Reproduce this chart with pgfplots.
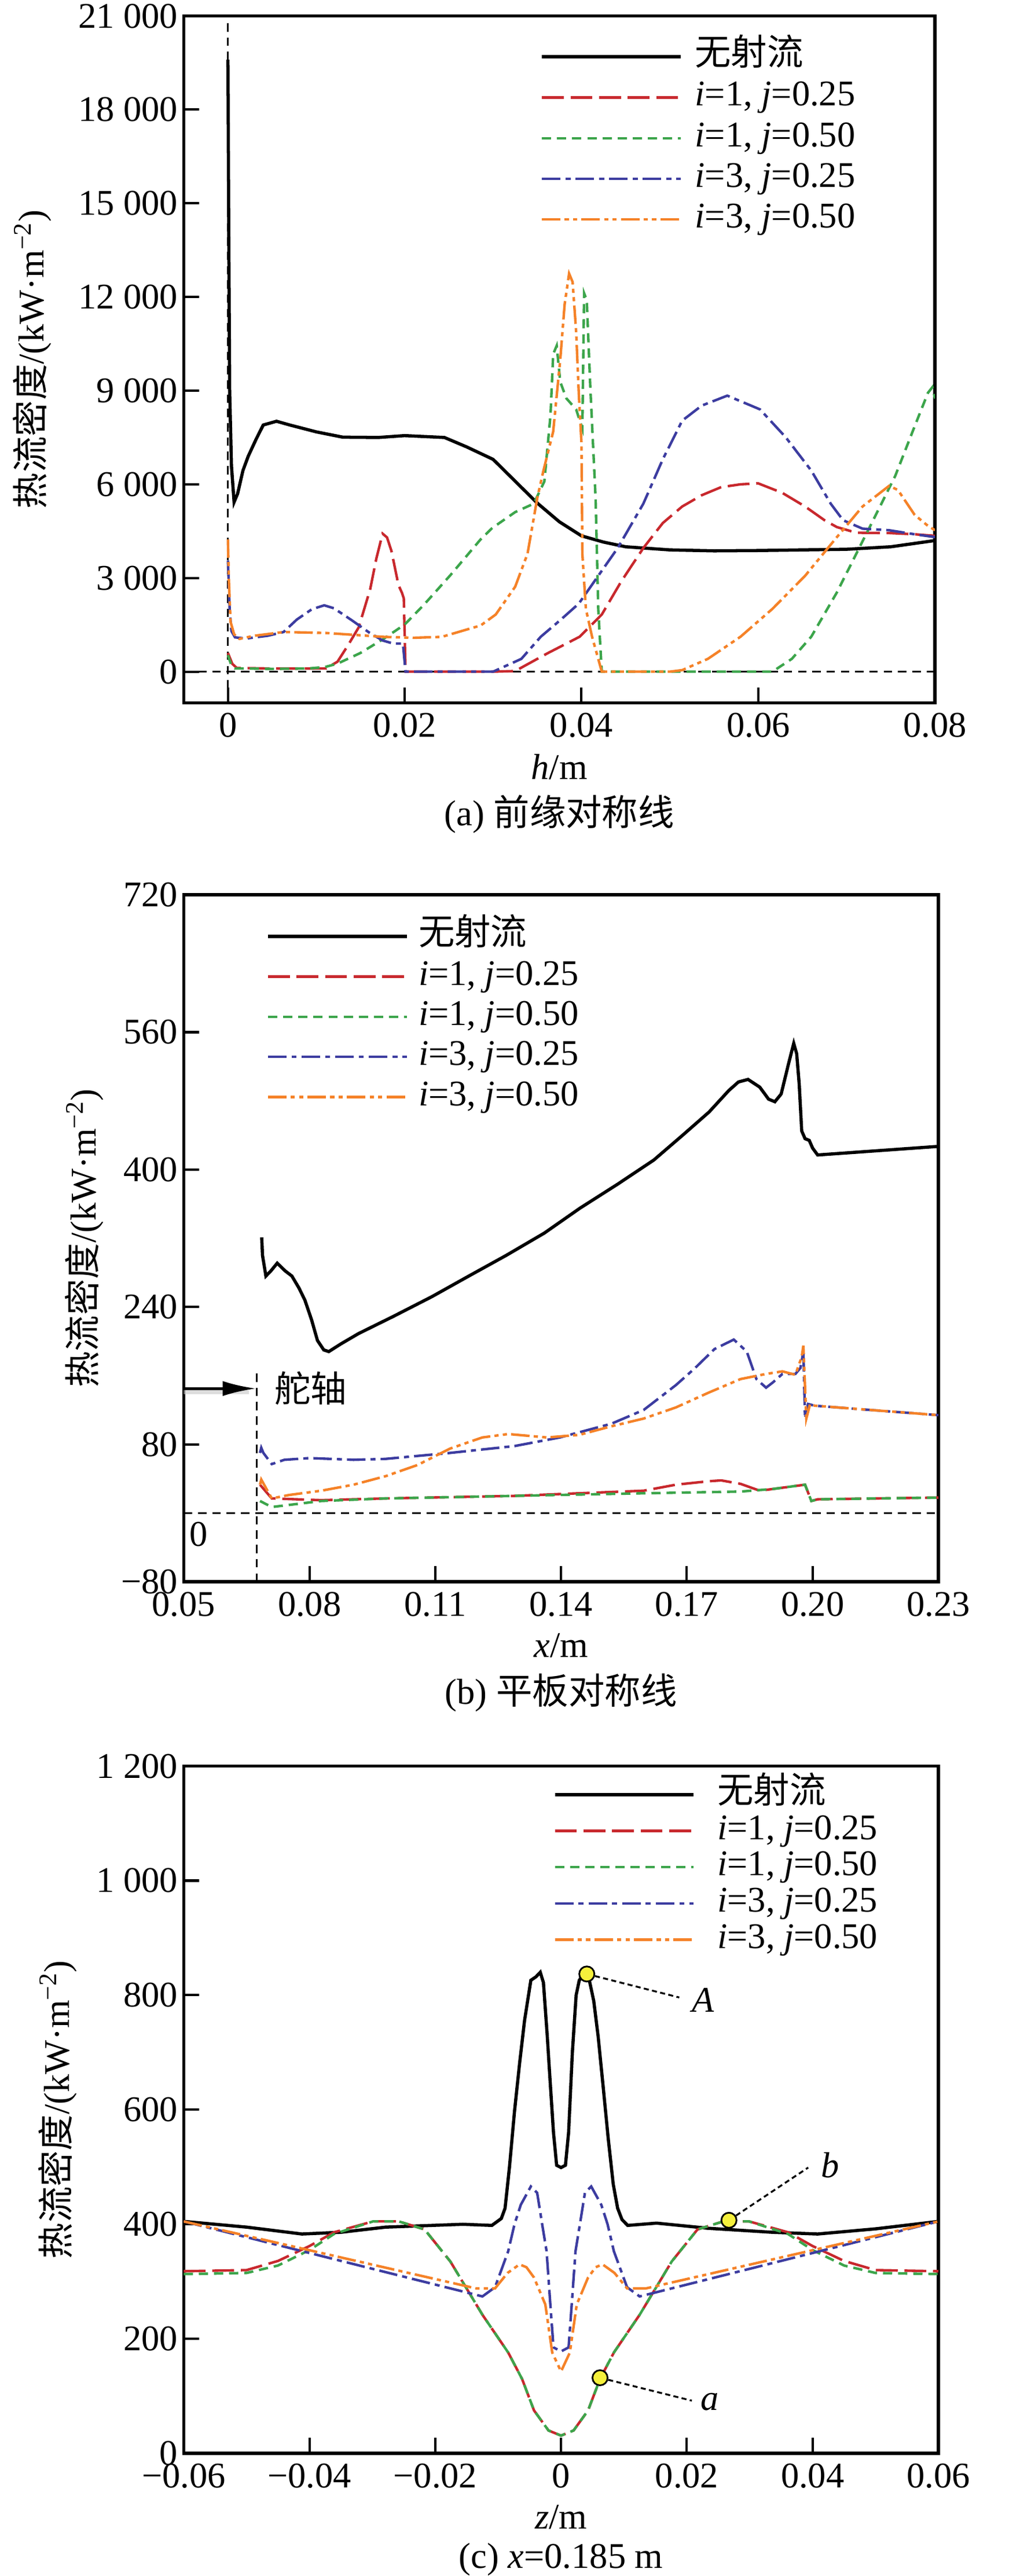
\documentclass[border=0pt]{standalone}
\usepackage{fontspec}
\setmainfont{Liberation Serif}
\newfontfamily\cjk{Noto Sans CJK SC}
\usepackage{pgfplots}
\pgfplotsset{compat=1.18}
\usetikzlibrary{arrows.meta}
\newcommand\fsz{\fontsize{21.5}{25}\selectfont}
\definecolor{cred}{RGB}{200,40,45}
\definecolor{cgreen}{RGB}{60,165,75}
\definecolor{cblue}{RGB}{60,60,160}
\definecolor{corange}{RGB}{245,130,40}
\definecolor{cyel}{RGB}{245,240,60}

\pgfplotsset{
 base/.style={scale only axis, width=447pt, height=408.8pt, clip mode=individual,
   scaled ticks=false,
   axis line style={line width=1.9pt}, tick align=inside, tick pos=left,
   major tick length=9.2pt, every tick/.style={line width=1.4pt,black},
   tick label style={font=\fsz}, xticklabel style={yshift=-2.5pt},
   label style={font=\fsz},
   xlabel style={at={(axis description cs:0.5,0)}, anchor=center, yshift=-38pt},
   legend cell align=left,
   legend style={draw=none, fill=none, inner sep=0pt, outer sep=0pt, anchor=north west, font=\fsz,
     nodes={inner sep=0pt, text height=15pt, text depth=5pt}},
   legend image code/.code={\draw[##1] (0pt,0pt) -- (82.5pt,0pt);},
 },
 sk/.style={black, line width=1.9pt},
 sr/.style={cred, line width=1.5pt, dash pattern=on 13pt off 4pt},
 sg/.style={cgreen, line width=1.5pt, dash pattern=on 5.5pt off 3.5pt},
 sb/.style={cblue, line width=1.5pt, dash pattern=on 11pt off 3pt on 3pt off 3pt},
 so/.style={corange, line width=1.5pt, dash pattern=on 11pt off 2.5pt on 2.5pt off 2.5pt on 2.5pt off 2.5pt},
 refl/.style={black, line width=1pt, dash pattern=on 5pt off 3.5pt, forget plot},
 lead/.style={black, line width=1.1pt, dash pattern=on 3pt off 2pt, forget plot},
}
\newcommand\ylab{{\cjk 热流密度}/(kW·m\textsuperscript{−2})}

\begin{document}
\begin{tikzpicture}[font=\fsz]
\useasboundingbox (0,0) rectangle (600pt,-1533pt);

% ---------------- (a) ----------------
\begin{axis}[base, name=a, at={(109.3pt,-9.5pt)}, anchor=north west,
  xmin=-0.005, xmax=0.08, ymin=-1000, ymax=21000,
  xtick={0,0.02,0.04,0.06,0.08}, xticklabels={0,0.02,0.04,0.06,0.08},
  ytick={0,3000,6000,9000,12000,15000,18000,21000},
  yticklabels={0,3~000,6~000,9~000,12~000,15~000,18~000,21~000},
  xlabel={\textit{h}/m}, ylabel={\ylab},
  ylabel style={at={(axis description cs:-0.202,0.5)}, anchor=center},
  legend style={at={(0.4747,0.965)}, column sep=7.6pt, row sep=4.2pt}]
\addplot[refl] coordinates {(-0.005,0) (0.08,0)};
\addplot[refl] coordinates {(0,-1000) (0,21000)};
\addplot[sk] coordinates {
(0,19600) (0.0001,14000) (0.0002,9000) (0.0004,6600) (0.0007,5430) (0.0011,5700)
(0.0017,6440) (0.0023,6900) (0.0032,7450) (0.004,7900) (0.0055,8020) (0.007,7900) (0.010,7680)
(0.013,7510) (0.017,7500) (0.020,7560) (0.0245,7500) (0.027,7200) (0.030,6800)
(0.0325,6100) (0.035,5400) (0.0375,4800) (0.040,4350) (0.0425,4150) (0.045,4000)
(0.050,3900) (0.055,3870) (0.060,3880) (0.065,3900) (0.070,3920) (0.075,4000) (0.080,4200)};
\addlegendentry{{\cjk 无射流}}
\addplot[sr] coordinates {
(0,600) (0.0005,250) (0.001,120) (0.005,100) (0.009,100) (0.0111,105) (0.0124,320)
(0.0136,850) (0.0148,1420) (0.0161,2645) (0.0168,3630) (0.0175,4420) (0.0180,4300)
(0.0185,3870) (0.0193,2770) (0.0197,2520) (0.0199,2350) (0.0201,0) (0.025,0) (0.030,0) (0.0325,20)
(0.0361,580) (0.0398,1120) (0.0423,1830) (0.0445,2890) (0.047,3960) (0.0492,4760)
(0.0514,5290) (0.0536,5650) (0.0558,5910) (0.058,6000) (0.060,6030) (0.0627,5730)
(0.0653,5290) (0.0675,4850) (0.0689,4630) (0.0711,4450) (0.0748,4440) (0.0777,4400) (0.080,4350)};
\addlegendentry{\textit{i}=1, \textit{j}=0.25}
\addplot[sg] coordinates {
(0,530) (0.0004,200) (0.0008,105) (0.005,90) (0.009,100) (0.011,150) (0.0124,257)
(0.015,600) (0.0176,1050) (0.020,1510) (0.0222,2150) (0.0252,3100) (0.0286,4240)
(0.0299,4600) (0.0325,5110) (0.0346,5380) (0.0358,6090) (0.0365,8220) (0.0368,10170)
(0.0372,10440) (0.0376,9280) (0.0383,8750) (0.0394,8400) (0.0401,7780) (0.0403,12120)
(0.0406,11900) (0.041,9110) (0.0416,5560) (0.0419,2000) (0.0423,0) (0.0616,0)
(0.0638,410) (0.066,1120) (0.0689,2540) (0.0711,3780) (0.0733,5020) (0.0755,6270)
(0.0777,7860) (0.0792,8930) (0.0797,9110) (0.080,8750)};
\addlegendentry{\textit{i}=1, \textit{j}=0.50}
\addplot[sb] coordinates {
(0,3560) (0.0002,2000) (0.0004,1300) (0.0008,1100) (0.002,1060) (0.0045,1150) (0.0063,1270)
(0.0078,1670) (0.0095,2000) (0.0109,2125) (0.012,2030) (0.014,1650) (0.016,1250)
(0.0175,1000) (0.0187,900) (0.0198,900) (0.0201,0) (0.030,0) (0.0332,410) (0.0354,1120) (0.0376,1650)
(0.0397,2180) (0.0419,3070) (0.0441,3960) (0.047,5380) (0.0492,6800) (0.0514,8040)
(0.0536,8520) (0.0565,8840) (0.0602,8400) (0.0631,7510) (0.066,6440) (0.0682,5380)
(0.0696,4850) (0.0718,4580) (0.0748,4530) (0.0777,4400) (0.080,4310)};
\addlegendentry{\textit{i}=3, \textit{j}=0.25}
\addplot[so] coordinates {
(0,4240) (0.0001,3000) (0.0003,1600) (0.0007,1200) (0.0013,1050) (0.003,1150)
(0.0063,1270) (0.0111,1240) (0.0176,1115) (0.021,1085) (0.0242,1115) (0.0286,1480)
(0.0303,1830) (0.0325,2720) (0.0339,3780) (0.035,5560) (0.0357,6440) (0.0368,7690) (0.0376,9990)
(0.0381,11770) (0.0386,12750) (0.039,12480) (0.0394,10880) (0.0397,8900) (0.040,7330)
(0.0401,3780) (0.0405,2010) (0.0412,1120) (0.0423,0) (0.050,0) (0.0514,50)
(0.0543,410) (0.058,1120) (0.0616,2010) (0.0653,3070) (0.0689,4310) (0.0718,5290)
(0.0748,5950) (0.0758,5820) (0.0777,5020) (0.0792,4670) (0.080,4530)};
\addlegendentry{\textit{i}=3, \textit{j}=0.50}
\end{axis}
\node[font=\fsz] at ([yshift=-66.3pt]a.south) {(a) {\cjk 前缘对称线}};

% ---------------- (b) ----------------
\begin{axis}[base, name=b, at={(109.3pt,-532.5pt)}, anchor=north west, width=449pt,
  xmin=0.05, xmax=0.23, ymin=-80, ymax=720,
  xtick={0.05,0.08,0.11,0.14,0.17,0.20,0.23},
  xticklabels={0.05,0.08,0.11,0.14,0.17,0.20,0.23},
  ytick={-80,80,240,400,560,720}, yticklabels={−80,80,240,400,560,720},
  xlabel={\textit{x}/m}, ylabel={\ylab},
  ylabel style={at={(axis description cs:-0.132,0.5)}, anchor=center},
  legend style={at={(0.1096,0.9638)}, column sep=6.1pt, row sep=3.9pt}]
\addplot[refl] coordinates {(0.05,0) (0.23,0)};
\addplot[refl] coordinates {(0.0674,-80) (0.0674,168)};
\addplot[forget plot, gray!45, line width=2.5pt, opacity=0.6] coordinates {(0.05,141) (0.0655,141)};
\addplot[forget plot, black, line width=1.8pt, -{Latex[length=20pt,width=9pt]}] coordinates {(0.05,145) (0.0673,145)};
\addplot[sk] coordinates {
(0.0686,321) (0.0688,300) (0.0696,276) (0.0708,282) (0.0723,291) (0.0742,282)
(0.0758,276) (0.0775,262) (0.0789,248) (0.0805,225) (0.0819,201) (0.0834,190)
(0.0846,188) (0.0875,197) (0.0917,209) (0.1,229) (0.1092,252) (0.1180,276)
(0.1269,300) (0.1360,326) (0.1445,355) (0.1535,383) (0.1621,411) (0.1690,440)
(0.1753,467) (0.1800,492) (0.1823,502) (0.1846,505) (0.1874,496) (0.1895,482)
(0.1910,479) (0.1925,488) (0.1943,524) (0.1955,547) (0.1962,535) (0.1968,500)
(0.1974,445) (0.1982,436) (0.1992,434) (0.2000,425) (0.2012,417) (0.23,427)};
\addlegendentry{{\cjk 无射流}}
\addplot[sr] coordinates {
(0.0682,33) (0.071,17) (0.0828,15) (0.0982,17) (0.1289,20) (0.1443,23) (0.1597,26)
(0.1674,33) (0.1751,37) (0.1782,38) (0.1828,34) (0.1874,26) (0.1905,28) (0.1982,33)
(0.1997,14) (0.2012,16) (0.23,18)};
\addlegendentry{\textit{i}=1, \textit{j}=0.25}
\addplot[sg] coordinates {
(0.0682,14) (0.071,7) (0.0828,14) (0.0982,17) (0.1289,20) (0.1597,23) (0.1828,25)
(0.1905,28) (0.1982,33) (0.1997,14) (0.2012,16) (0.23,18)};
\addlegendentry{\textit{i}=1, \textit{j}=0.50}
\addplot[sb] coordinates {
(0.0682,70) (0.0685,76) (0.069,70) (0.071,57) (0.074,62) (0.080,64) (0.0905,62)
(0.098,63) (0.1135,70) (0.1289,78) (0.1397,88) (0.152,104) (0.1597,120) (0.1674,149)
(0.172,169) (0.1766,191) (0.1812,202) (0.1843,188) (0.1866,156) (0.1889,146)
(0.1905,152) (0.1928,162) (0.1959,162) (0.1971,169) (0.1978,188) (0.1982,110)
(0.1989,127) (0.2005,125) (0.23,114)};
\addlegendentry{\textit{i}=3, \textit{j}=0.25}
\addplot[so] coordinates {
(0.0682,33) (0.0685,39) (0.071,17) (0.0751,21) (0.0828,26) (0.0905,33) (0.0982,43)
(0.1058,56) (0.1135,75) (0.1212,88) (0.1274,92) (0.132,90) (0.1366,88) (0.1443,91)
(0.152,101) (0.1597,110) (0.1674,123) (0.1751,140) (0.1828,156) (0.1889,162)
(0.1928,165) (0.1959,161) (0.1974,182) (0.1978,195) (0.1985,110) (0.1994,127)
(0.2005,125) (0.23,114)};
\addlegendentry{\textit{i}=3, \textit{j}=0.50}
\node[anchor=west, inner sep=0pt, font=\fsz] at (axis cs:0.0716,145) {{\cjk 舵轴}};
\node[font=\fsz] at (axis cs:0.0536,-25) {0};
\end{axis}
\node[font=\fsz] at ([yshift=-66pt]b.south) {(b) {\cjk 平板对称线}};

% ---------------- (c) ----------------
\begin{axis}[base, name=c, at={(109.3pt,-1051pt)}, anchor=north west, width=449pt, height=409pt,
  xmin=-0.06, xmax=0.06, ymin=0, ymax=1200,
  xtick={-0.06,-0.04,-0.02,0,0.02,0.04,0.06},
  xticklabels={−0.06,−0.04,−0.02,0,0.02,0.04,0.06},
  ytick={0,200,400,600,800,1000,1200}, yticklabels={0,200,400,600,800,1~000,1~200},
  xlabel={\textit{z}/m}, ylabel={\ylab},
  ylabel style={at={(axis description cs:-0.167,0.5)}, anchor=center},
  legend style={at={(0.4898,0.983)}, column sep=13.2pt, row sep=1.6pt}]
\addplot[sk] coordinates {
(-0.06,405) (-0.05,395) (-0.0412,383) (-0.035,386) (-0.0279,395) (-0.0156,400)
(-0.011,398) (-0.0095,410) (-0.0089,428) (-0.0082,500) (-0.0074,597) (-0.0066,680)
(-0.0058,756) (-0.0048,826) (-0.004,832) (-0.0033,840) (-0.0028,822) (-0.0022,730)
(-0.0017,644) (-0.0012,560) (-0.0007,503) (0,499) (0.0007,503) (0.0012,560)
(0.0018,700) (0.0024,800) (0.0029,826) (0.0038,840) (0.0045,826) (0.0052,790)
(0.0059,728) (0.0067,640) (0.0075,550) (0.0083,470) (0.009,428) (0.0097,408)
(0.0106,398) (0.0152,402) (0.0234,393) (0.0336,386) (0.0408,383) (0.05,392) (0.06,405)};
\addlegendentry{{\cjk 无射流}}
\addplot[sr] coordinates {
(-0.06,318) (-0.05,320) (-0.045,336) (-0.04,362) (-0.0361,386) (-0.0299,405)
(-0.0258,405) (-0.0217,391) (-0.0176,335) (-0.0125,242) (-0.0084,176) (-0.0062,130)
(-0.0043,75) (-0.002,40) (0,31) (0.002,40) (0.0043,75) (0.0062,130) (0.0084,176)
(0.0125,242) (0.0176,335) (0.0217,391) (0.0258,405) (0.0299,405) (0.0361,386)
(0.04,362) (0.045,336) (0.05,320) (0.06,318)};
\addlegendentry{\textit{i}=1, \textit{j}=0.25}
\addplot[sg] coordinates {
(-0.06,313) (-0.05,315) (-0.045,328) (-0.04,355) (-0.0361,383) (-0.0299,405)
(-0.0258,405) (-0.0217,391) (-0.0176,335) (-0.0125,242) (-0.0084,176) (-0.0062,130)
(-0.0043,75) (-0.002,40) (0,31) (0.002,40) (0.0043,75) (0.0062,130) (0.0084,176)
(0.0125,242) (0.0176,335) (0.0217,391) (0.0258,405) (0.0299,405) (0.0361,383)
(0.04,355) (0.045,328) (0.05,315) (0.06,313)};
\addlegendentry{\textit{i}=1, \textit{j}=0.50}
\addplot[sb] coordinates {
(-0.06,405) (-0.0125,274) (-0.0105,290) (-0.0084,353) (-0.0074,400) (-0.0064,434)
(-0.0048,466) (-0.0038,455) (-0.003,400) (-0.0023,353) (-0.0017,260) (-0.0012,185)
(0,178) (0.0012,185) (0.0017,260) (0.0023,353) (0.003,400) (0.0038,455) (0.0048,466)
(0.0064,434) (0.0074,400) (0.0084,353) (0.0105,290) (0.0125,274) (0.06,405)};
\addlegendentry{\textit{i}=3, \textit{j}=0.25}
\addplot[so] coordinates {
(-0.06,405) (-0.0135,288) (-0.0105,288) (-0.0085,315) (-0.0066,330) (-0.0055,325)
(-0.0043,307) (-0.0025,260) (-0.0014,176) (0,143) (0.0014,176) (0.0025,260)
(0.0043,307) (0.0055,325) (0.0066,330) (0.0085,315) (0.0105,288) (0.0135,288) (0.06,405)};
\addlegendentry{\textit{i}=3, \textit{j}=0.50}
\addplot[lead] coordinates {(0.0041,837) (0.0188,796)};
\addplot[lead] coordinates {(0.0267,407) (0.0393,499)};
\addplot[lead] coordinates {(0.0062,132) (0.0208,92)};
\addplot[forget plot, only marks, mark=*, mark size=4.5pt, mark options={fill=cyel, draw=black, line width=1pt, solid}]
  coordinates {(0.0041,837) (0.0267,407) (0.0062,132)};
\node[anchor=west, inner sep=0pt, font=\fsz] at (axis cs:0.0208,791) {\textit{A}};
\node[anchor=west, inner sep=0pt, font=\fsz] at (axis cs:0.0413,503) {\textit{b}};
\node[anchor=west, inner sep=0pt, font=\fsz] at (axis cs:0.0222,90) {\textit{a}};
\end{axis}
\node[font=\fsz] at ([yshift=-63pt]c.south) {(c) \textit{x}=0.185 m};
\end{tikzpicture}
\end{document}
